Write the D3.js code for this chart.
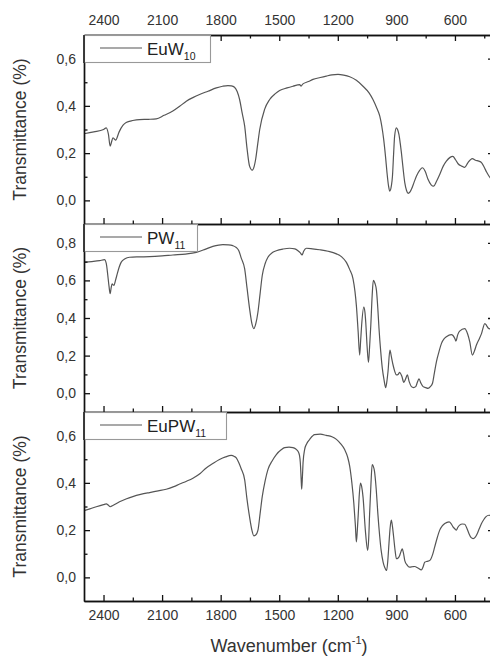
<!DOCTYPE html>
<html>
<head>
<meta charset="utf-8">
<script src="https://cdn.jsdelivr.net/npm/d3@7"></script>
<style>
  html, body { margin: 0; padding: 0; background: #fff; overflow: hidden; }
  svg { display: block; font-family: "Liberation Sans", Arial, sans-serif; }
</style>
</head>
<body>
<script>
// FTIR spectra: [wavenumber (cm-1), transmittance]
const euW10 = [
  [2500,0.282],[2450,0.290],[2400,0.300],[2386,0.307],[2375,0.280],[2366,0.230],[2358,0.250],[2352,0.265],
  [2345,0.260],[2338,0.255],[2320,0.290],[2300,0.318],[2284,0.330],[2250,0.338],[2216,0.342],[2170,0.343],
  [2130,0.345],[2090,0.360],[2045,0.378],[2010,0.398],[1976,0.420],[1940,0.436],[1908,0.448],[1865,0.462],
  [1822,0.476],[1790,0.483],[1763,0.486],[1745,0.485],[1729,0.479],[1715,0.460],[1703,0.427],[1690,0.370],
  [1677,0.314],[1665,0.220],[1652,0.145],[1638,0.128],[1628,0.145],[1621,0.173],[1610,0.240],[1600,0.300],
  [1575,0.385],[1549,0.427],[1520,0.452],[1498,0.465],[1460,0.476],[1430,0.483],[1395,0.490],[1388,0.484],
  [1380,0.492],[1350,0.503],[1327,0.512],[1290,0.520],[1259,0.526],[1230,0.531],[1199,0.533],[1170,0.530],
  [1139,0.523],[1105,0.508],[1071,0.483],[1040,0.455],[1020,0.427],[1000,0.390],[985,0.357],[965,0.258],
  [955,0.180],[948,0.117],[940,0.060],[934,0.039],[926,0.060],[920,0.103],[914,0.200],[909,0.272],
  [900,0.307],[893,0.298],[887,0.279],[880,0.240],[874,0.200],[865,0.130],[857,0.075],[848,0.042],
  [840,0.030],[830,0.036],[823,0.047],[810,0.075],[797,0.103],[780,0.128],[767,0.138],[752,0.122],
  [738,0.089],[722,0.066],[709,0.060],[695,0.080],[678,0.110],[660,0.145],[644,0.166],[625,0.182],
  [611,0.186],[597,0.172],[584,0.155],[565,0.145],[550,0.140],[535,0.158],[511,0.177],[495,0.170],
  [478,0.166],[464,0.160],[450,0.140],[438,0.120],[426,0.103],[410,0.085]
];

const pw11 = [
  [2500,0.696],[2460,0.700],[2420,0.705],[2395,0.710],[2386,0.690],[2378,0.626],[2372,0.570],[2366,0.529],
  [2361,0.560],[2356,0.582],[2350,0.575],[2346,0.573],[2340,0.595],[2332,0.626],[2320,0.670],[2310,0.696],
  [2290,0.715],[2267,0.723],[2220,0.725],[2164,0.726],[2100,0.730],[2045,0.735],[1980,0.740],[1925,0.749],
  [1880,0.765],[1840,0.781],[1810,0.788],[1789,0.790],[1760,0.789],[1738,0.785],[1720,0.775],[1707,0.758],
  [1695,0.720],[1677,0.661],[1665,0.560],[1652,0.450],[1640,0.370],[1630,0.344],[1620,0.370],[1609,0.432],
  [1598,0.530],[1587,0.626],[1572,0.690],[1558,0.723],[1535,0.748],[1515,0.758],[1480,0.767],[1447,0.771],
  [1420,0.768],[1404,0.758],[1393,0.748],[1383,0.735],[1375,0.755],[1361,0.771],[1330,0.768],[1293,0.763],
  [1250,0.755],[1207,0.741],[1180,0.725],[1156,0.696],[1140,0.660],[1122,0.608],[1112,0.540],[1105,0.467],
  [1096,0.330],[1088,0.203],[1083,0.280],[1078,0.361],[1067,0.458],[1061,0.430],[1057,0.379],[1050,0.250],
  [1043,0.164],[1037,0.250],[1031,0.361],[1024,0.520],[1018,0.600],[1010,0.585],[1002,0.547],[995,0.450],
  [989,0.344],[980,0.220],[972,0.132],[963,0.070],[955,0.030],[949,0.060],[943,0.114],[933,0.229],
  [925,0.190],[917,0.150],[908,0.115],[900,0.097],[891,0.100],[883,0.111],[872,0.090],[862,0.058],
  [853,0.075],[844,0.097],[834,0.060],[823,0.035],[812,0.030],[801,0.035],[792,0.060],[784,0.076],
  [775,0.055],[763,0.035],[750,0.030],[738,0.026],[726,0.035],[715,0.053],[705,0.110],[695,0.167],
  [682,0.220],[669,0.265],[655,0.290],[644,0.300],[619,0.312],[600,0.290],[595,0.277],[586,0.310],
  [576,0.330],[550,0.344],[535,0.315],[524,0.273],[511,0.203],[500,0.225],[490,0.256],[475,0.290],
  [464,0.317],[447,0.370],[438,0.360],[430,0.347],[415,0.340]
];

const euPW11 = [
  [2500,0.282],[2470,0.290],[2437,0.299],[2400,0.308],[2386,0.311],[2375,0.305],[2366,0.299],[2350,0.305],
  [2318,0.320],[2285,0.332],[2250,0.342],[2210,0.351],[2164,0.359],[2120,0.366],[2079,0.373],[2040,0.384],
  [2010,0.395],[1975,0.407],[1942,0.420],[1905,0.440],[1874,0.463],[1840,0.482],[1806,0.499],[1775,0.510],
  [1746,0.516],[1730,0.512],[1720,0.506],[1707,0.485],[1695,0.460],[1677,0.413],[1665,0.330],[1652,0.256],
  [1640,0.200],[1630,0.176],[1622,0.178],[1609,0.200],[1598,0.270],[1587,0.342],[1572,0.410],[1558,0.456],
  [1535,0.495],[1515,0.520],[1490,0.540],[1472,0.549],[1450,0.551],[1430,0.549],[1415,0.543],[1404,0.534],
  [1396,0.515],[1392,0.485],[1388,0.420],[1385,0.373],[1381,0.430],[1378,0.485],[1370,0.541],[1360,0.565],
  [1344,0.584],[1319,0.604],[1290,0.606],[1259,0.601],[1230,0.595],[1207,0.584],[1185,0.565],[1165,0.541],
  [1150,0.510],[1139,0.470],[1128,0.400],[1118,0.314],[1110,0.220],[1105,0.150],[1100,0.200],[1095,0.271],
  [1090,0.350],[1084,0.399],[1078,0.385],[1071,0.342],[1059,0.200],[1047,0.114],[1042,0.160],[1037,0.271],
  [1030,0.400],[1024,0.477],[1018,0.470],[1012,0.449],[1003,0.370],[995,0.271],[985,0.170],[978,0.114],
  [968,0.065],[960,0.043],[950,0.029],[944,0.070],[938,0.143],[932,0.210],[926,0.242],[920,0.215],
  [914,0.171],[906,0.110],[900,0.079],[891,0.082],[883,0.093],[876,0.110],[870,0.121],[863,0.100],
  [857,0.071],[845,0.052],[832,0.043],[818,0.045],[806,0.046],[790,0.040],[772,0.032],[763,0.045],
  [755,0.064],[742,0.068],[729,0.071],[715,0.095],[704,0.128],[690,0.170],[678,0.200],[665,0.218],
  [652,0.228],[630,0.235],[620,0.228],[610,0.214],[600,0.205],[593,0.200],[585,0.212],[576,0.221],
  [562,0.226],[550,0.225],[540,0.210],[528,0.185],[517,0.168],[507,0.164],[496,0.170],[486,0.185],
  [475,0.207],[464,0.228],[452,0.245],[442,0.256],[426,0.263],[410,0.260]
];

const xTicks = [2400, 2100, 1800, 1500, 1200, 900, 600];
const xMinorTicks = [2250, 1950, 1650, 1350, 1050, 750, 450];
const yTicksShort = [0, 0.2, 0.4, 0.6];
const yTicksTall = [0, 0.2, 0.4, 0.6, 0.8];

const panels = [
  { name: "EuW", sub: "10", data: euW10, domain: [-0.1, 0.7], ticks: yTicksShort, top: 35, bottom: 224, legendW: 126 },
  { name: "PW", sub: "11", data: pw11, domain: [-0.1, 0.9], ticks: yTicksTall, top: 224, bottom: 412, legendW: 113 },
  { name: "EuPW", sub: "11", data: euPW11, domain: [-0.1, 0.7], ticks: yTicksShort, top: 412, bottom: 601, legendW: 142 }
];

const W = 500, H = 657;
const left = 84, right = 494;
const inkAxis = "#111", inkText = "#333", inkLine = "#555";

const svg = d3.select("body").append("svg").attr("width", W).attr("height", H);

const x = d3.scaleLinear().domain([2500, 400]).range([left, right]);
const fmt = v => d3.format(".1f")(v).replace(".", ",");

function styleAxis(g) {
  g.selectAll("path.domain").attr("stroke", inkAxis).attr("stroke-width", 1.4);
  g.selectAll(".tick line").attr("stroke", inkAxis).attr("stroke-width", 1.3);
  g.selectAll(".tick text").attr("fill", inkText).style("font-size", "14px");
}

panels.forEach((p, i) => {
  const y = d3.scaleLinear().domain(p.domain).range([p.bottom, p.top]);
  const g = svg.append("g");

  const clipId = "clip" + i;
  svg.append("clipPath").attr("id", clipId)
    .append("rect").attr("x", left).attr("y", p.top).attr("width", right - left).attr("height", p.bottom - p.top);

  // spectrum
  const line = d3.line().x(d => x(d[0])).y(d => y(d[1])).curve(d3.curveMonotoneX);
  g.append("path").datum(p.data)
    .attr("clip-path", `url(#${clipId})`)
    .attr("fill", "none").attr("stroke", inkLine).attr("stroke-width", 1.2)
    .attr("d", line);

  // odd tenths between the labelled ticks
  const yMinor = d3.range(-1, Math.round(p.domain[1] * 10)).filter(k => k % 2 !== 0).map(k => k / 10)
    .filter(v => v > p.domain[0] && v < p.domain[1]);

  // left axis
  g.append("g").attr("transform", `translate(${left},0)`)
    .call(d3.axisLeft(y).tickValues(p.ticks).tickFormat(fmt).tickSizeInner(-6).tickSizeOuter(0).tickPadding(8))
    .call(styleAxis);
  g.append("g").attr("transform", `translate(${left},0)`)
    .call(d3.axisLeft(y).tickValues(yMinor).tickFormat("").tickSizeInner(-3.5).tickSizeOuter(0))
    .call(styleAxis);

  // right axis
  g.append("g").attr("transform", `translate(${right},0)`)
    .call(d3.axisRight(y).tickValues(p.ticks).tickFormat("").tickSizeInner(-6).tickSizeOuter(0))
    .call(styleAxis);
  g.append("g").attr("transform", `translate(${right},0)`)
    .call(d3.axisRight(y).tickValues(yMinor).tickFormat("").tickSizeInner(-3.5).tickSizeOuter(0))
    .call(styleAxis);

  // bottom axis
  const last = i === panels.length - 1;
  g.append("g").attr("transform", `translate(0,${p.bottom})`)
    .call(d3.axisBottom(x).tickValues(xTicks).tickFormat(last ? d3.format("d") : "").tickSizeInner(-6).tickSizeOuter(0).tickPadding(9))
    .call(styleAxis);
  g.append("g").attr("transform", `translate(0,${p.bottom})`)
    .call(d3.axisBottom(x).tickValues(xMinorTicks).tickFormat("").tickSizeInner(-3.5).tickSizeOuter(0))
    .call(styleAxis);

  // top axis of the upper panel carries labels
  if (i === 0) {
    g.append("g").attr("transform", `translate(0,${p.top})`)
      .call(d3.axisTop(x).tickValues(xTicks).tickFormat(d3.format("d")).tickSizeInner(-6).tickSizeOuter(0).tickPadding(10))
      .call(styleAxis);
    g.append("g").attr("transform", `translate(0,${p.top})`)
      .call(d3.axisTop(x).tickValues(xMinorTicks).tickFormat("").tickSizeInner(-3.5).tickSizeOuter(0))
      .call(styleAxis);
  }

  // y title
  const cy = (p.top + p.bottom) / 2;
  svg.append("text")
    .attr("transform", `translate(26,${cy}) rotate(-90)`)
    .attr("text-anchor", "middle")
    .attr("fill", inkText)
    .style("font-size", "17.5px")
    .text("Transmittance (%)");

  // legend
  const lg = svg.append("g").attr("transform", `translate(${left},${p.top})`);
  lg.append("rect").attr("x", 0.5).attr("y", 0.5).attr("width", p.legendW).attr("height", 27)
    .attr("fill", "#fff").attr("stroke", "#999").attr("stroke-width", 1.1);
  lg.append("line").attr("x1", 16).attr("x2", 58).attr("y1", 13).attr("y2", 13)
    .attr("stroke", inkLine).attr("stroke-width", 1.2);
  const t = lg.append("text").attr("x", 63).attr("y", 20).attr("fill", "#222").style("font-size", "17px");
  t.append("tspan").text(p.name);
  t.append("tspan").attr("dy", 5).style("font-size", "10.5px").text(p.sub);

  // left spine drawn again over the legend edge so the axis stays continuous
  svg.append("line").attr("x1", left).attr("x2", left).attr("y1", p.top).attr("y2", p.top + 28)
    .attr("stroke", inkAxis).attr("stroke-width", 1.4);
});

// x title
const xt = svg.append("text")
  .attr("x", (left + right) / 2).attr("y", 652)
  .attr("text-anchor", "middle")
  .attr("fill", inkText)
  .style("font-size", "18px");
xt.append("tspan").text("Wavenumber (cm");
xt.append("tspan").attr("dy", -8).style("font-size", "11px").text("-1");
xt.append("tspan").attr("dy", 8).text(")");
</script>
</body>
</html>
